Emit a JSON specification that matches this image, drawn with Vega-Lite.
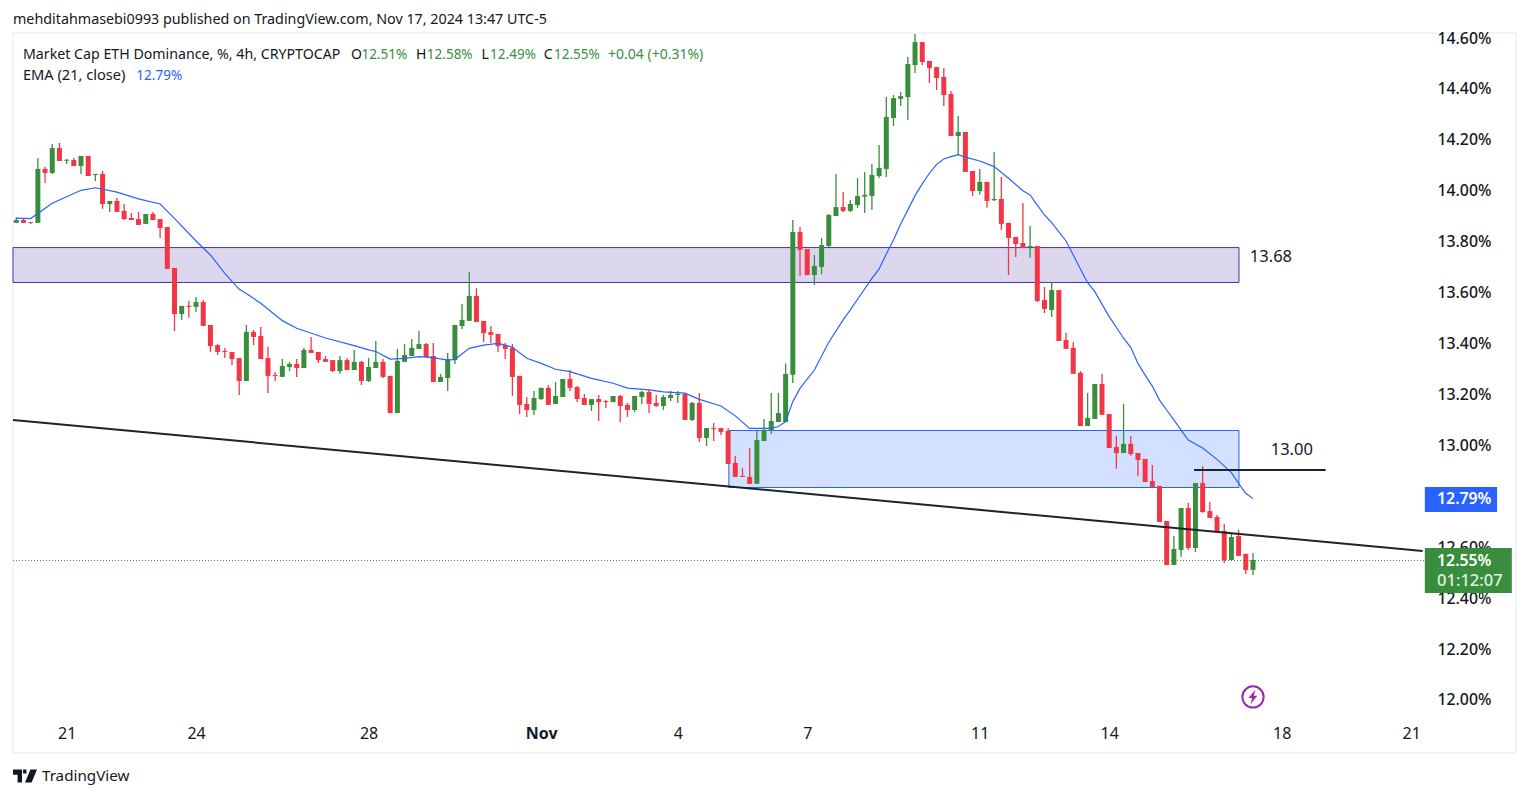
{"$schema":"https://vega.github.io/schema/vega-lite/v6.json",
"autosize":{"type":"none"},"padding":{"left":13,"top":33,"right":13,"bottom":45},"width":1503,"height":720,"background":"#ffffff",
"config":{"view":{"stroke":"#f0f3fa","strokeWidth":2},"text":{"font":"Noto Sans"},"font":"Noto Sans"},
"data":{"values":[{}]},
"datasets":{
"ohlc":[
{"i":0,"o":13.874,"c":13.885,"h":13.896,"l":13.874},{"i":1,"o":13.885,"c":13.874,"h":13.892,"l":13.874},{"i":2,"o":13.877,"c":13.874,"h":13.877,"l":13.870},{"i":3,"o":13.874,"c":14.086,"h":14.129,"l":13.874},{"i":4,"o":14.086,"c":14.070,"h":14.094,"l":14.031},{"i":5,"o":14.070,"c":14.168,"h":14.184,"l":14.066},{"i":6,"o":14.168,"c":14.117,"h":14.188,"l":14.117},{"i":7,"o":14.118,"c":14.122,"h":14.125,"l":14.105},{"i":8,"o":14.121,"c":14.097,"h":14.129,"l":14.097},{"i":9,"o":14.097,"c":14.137,"h":14.137,"l":14.066},
{"i":10,"o":14.137,"c":14.058,"h":14.137,"l":14.058},{"i":11,"o":14.062,"c":14.066,"h":14.066,"l":14.038},{"i":12,"o":14.066,"c":13.948,"h":14.078,"l":13.929},{"i":13,"o":13.948,"c":13.960,"h":13.960,"l":13.917},{"i":14,"o":13.960,"c":13.917,"h":13.972,"l":13.917},{"i":15,"o":13.921,"c":13.889,"h":13.948,"l":13.885},{"i":16,"o":13.893,"c":13.885,"h":13.913,"l":13.885},{"i":17,"o":13.889,"c":13.866,"h":13.917,"l":13.866},{"i":18,"o":13.870,"c":13.909,"h":13.909,"l":13.870},{"i":19,"o":13.909,"c":13.885,"h":13.917,"l":13.885},
{"i":20,"o":13.889,"c":13.854,"h":13.889,"l":13.815},{"i":21,"o":13.858,"c":13.693,"h":13.858,"l":13.693},{"i":22,"o":13.697,"c":13.516,"h":13.697,"l":13.449},{"i":23,"o":13.516,"c":13.548,"h":13.548,"l":13.493},{"i":24,"o":13.548,"c":13.544,"h":13.567,"l":13.501},{"i":25,"o":13.544,"c":13.563,"h":13.583,"l":13.524},{"i":26,"o":13.563,"c":13.469,"h":13.571,"l":13.469},{"i":27,"o":13.473,"c":13.390,"h":13.473,"l":13.367},{"i":28,"o":13.394,"c":13.367,"h":13.398,"l":13.355},{"i":29,"o":13.371,"c":13.367,"h":13.383,"l":13.343},
{"i":30,"o":13.367,"c":13.339,"h":13.367,"l":13.316},{"i":31,"o":13.343,"c":13.253,"h":13.343,"l":13.198},{"i":32,"o":13.253,"c":13.446,"h":13.473,"l":13.253},{"i":33,"o":13.445,"c":13.426,"h":13.453,"l":13.394},{"i":34,"o":13.430,"c":13.339,"h":13.465,"l":13.339},{"i":35,"o":13.343,"c":13.273,"h":13.387,"l":13.206},{"i":36,"o":13.277,"c":13.273,"h":13.288,"l":13.253},{"i":37,"o":13.269,"c":13.312,"h":13.339,"l":13.269},{"i":38,"o":13.308,"c":13.320,"h":13.328,"l":13.292},{"i":39,"o":13.320,"c":13.304,"h":13.339,"l":13.269},
{"i":40,"o":13.304,"c":13.375,"h":13.383,"l":13.304},{"i":41,"o":13.375,"c":13.363,"h":13.426,"l":13.363},{"i":42,"o":13.367,"c":13.335,"h":13.367,"l":13.324},{"i":43,"o":13.339,"c":13.328,"h":13.351,"l":13.328},{"i":44,"o":13.335,"c":13.292,"h":13.335,"l":13.288},{"i":45,"o":13.292,"c":13.335,"h":13.351,"l":13.281},{"i":46,"o":13.335,"c":13.296,"h":13.343,"l":13.296},{"i":47,"o":13.296,"c":13.328,"h":13.375,"l":13.296},{"i":48,"o":13.328,"c":13.253,"h":13.332,"l":13.237},{"i":49,"o":13.253,"c":13.308,"h":13.343,"l":13.249},
{"i":50,"o":13.304,"c":13.328,"h":13.410,"l":13.304},{"i":51,"o":13.328,"c":13.269,"h":13.339,"l":13.265},{"i":52,"o":13.273,"c":13.127,"h":13.273,"l":13.127},{"i":53,"o":13.127,"c":13.332,"h":13.379,"l":13.127},{"i":54,"o":13.328,"c":13.355,"h":13.398,"l":13.328},{"i":55,"o":13.351,"c":13.383,"h":13.418,"l":13.351},{"i":56,"o":13.379,"c":13.398,"h":13.449,"l":13.379},{"i":57,"o":13.398,"c":13.347,"h":13.402,"l":13.347},{"i":58,"o":13.351,"c":13.249,"h":13.402,"l":13.249},{"i":59,"o":13.249,"c":13.269,"h":13.281,"l":13.249},
{"i":60,"o":13.265,"c":13.339,"h":13.363,"l":13.214},{"i":61,"o":13.335,"c":13.473,"h":13.473,"l":13.320},{"i":62,"o":13.469,"c":13.493,"h":13.555,"l":13.457},{"i":63,"o":13.489,"c":13.587,"h":13.681,"l":13.489},{"i":64,"o":13.587,"c":13.485,"h":13.618,"l":13.485},{"i":65,"o":13.489,"c":13.441,"h":13.489,"l":13.406},{"i":66,"o":13.445,"c":13.434,"h":13.469,"l":13.402},{"i":67,"o":13.438,"c":13.390,"h":13.438,"l":13.367},{"i":68,"o":13.394,"c":13.379,"h":13.402,"l":13.339},{"i":69,"o":13.383,"c":13.269,"h":13.398,"l":13.194},
{"i":70,"o":13.273,"c":13.159,"h":13.273,"l":13.123},{"i":71,"o":13.163,"c":13.139,"h":13.190,"l":13.112},{"i":72,"o":13.139,"c":13.186,"h":13.214,"l":13.119},{"i":73,"o":13.182,"c":13.226,"h":13.226,"l":13.178},{"i":74,"o":13.226,"c":13.159,"h":13.237,"l":13.159},{"i":75,"o":13.163,"c":13.194,"h":13.249,"l":13.163},{"i":76,"o":13.190,"c":13.261,"h":13.261,"l":13.190},{"i":77,"o":13.261,"c":13.226,"h":13.296,"l":13.214},{"i":78,"o":13.229,"c":13.182,"h":13.233,"l":13.170},{"i":79,"o":13.186,"c":13.159,"h":13.202,"l":13.159},
{"i":80,"o":13.159,"c":13.182,"h":13.182,"l":13.135},{"i":81,"o":13.182,"c":13.170,"h":13.198,"l":13.096},{"i":82,"o":13.174,"c":13.170,"h":13.178,"l":13.147},{"i":83,"o":13.170,"c":13.194,"h":13.194,"l":13.170},{"i":84,"o":13.194,"c":13.155,"h":13.198,"l":13.092},{"i":85,"o":13.159,"c":13.139,"h":13.167,"l":13.112},{"i":86,"o":13.139,"c":13.194,"h":13.194,"l":13.131},{"i":87,"o":13.190,"c":13.210,"h":13.214,"l":13.163},{"i":88,"o":13.210,"c":13.163,"h":13.218,"l":13.127},{"i":89,"o":13.167,"c":13.155,"h":13.198,"l":13.151},
{"i":90,"o":13.155,"c":13.190,"h":13.198,"l":13.139},{"i":91,"o":13.186,"c":13.198,"h":13.214,"l":13.174},{"i":92,"o":13.198,"c":13.202,"h":13.214,"l":13.167},{"i":93,"o":13.202,"c":13.100,"h":13.202,"l":13.100},{"i":94,"o":13.100,"c":13.167,"h":13.170,"l":13.096},{"i":95,"o":13.167,"c":13.029,"h":13.206,"l":13.013},{"i":96,"o":13.029,"c":13.068,"h":13.068,"l":12.998},{"i":97,"o":13.068,"c":13.064,"h":13.088,"l":13.017},{"i":98,"o":13.068,"c":13.053,"h":13.068,"l":13.041},{"i":99,"o":13.057,"c":12.927,"h":13.068,"l":12.927},
{"i":100,"o":12.931,"c":12.876,"h":12.958,"l":12.876},{"i":101,"o":12.880,"c":12.876,"h":12.911,"l":12.876},{"i":102,"o":12.876,"c":12.849,"h":12.990,"l":12.849},{"i":103,"o":12.849,"c":13.021,"h":13.061,"l":12.849},{"i":104,"o":13.017,"c":13.061,"h":13.104,"l":13.017},{"i":105,"o":13.057,"c":13.096,"h":13.206,"l":13.045},{"i":106,"o":13.092,"c":13.127,"h":13.206,"l":13.092},{"i":107,"o":13.092,"c":13.281,"h":13.322,"l":13.092},{"i":108,"o":13.277,"c":13.838,"h":13.885,"l":13.245},{"i":109,"o":13.838,"c":13.768,"h":13.858,"l":13.666},
{"i":110,"o":13.771,"c":13.669,"h":13.771,"l":13.669},{"i":111,"o":13.669,"c":13.705,"h":13.748,"l":13.630},{"i":112,"o":13.701,"c":13.787,"h":13.815,"l":13.673},{"i":113,"o":13.783,"c":13.905,"h":13.909,"l":13.779},{"i":114,"o":13.901,"c":13.936,"h":14.066,"l":13.901},{"i":115,"o":13.936,"c":13.921,"h":13.995,"l":13.917},{"i":116,"o":13.921,"c":13.948,"h":13.964,"l":13.917},{"i":117,"o":13.944,"c":13.980,"h":14.050,"l":13.933},{"i":118,"o":13.977,"c":13.984,"h":14.074,"l":13.913},{"i":119,"o":13.980,"c":14.062,"h":14.105,"l":13.925},
{"i":120,"o":14.058,"c":14.090,"h":14.180,"l":14.050},{"i":121,"o":14.086,"c":14.290,"h":14.368,"l":14.054},{"i":122,"o":14.286,"c":14.364,"h":14.376,"l":14.255},{"i":123,"o":14.361,"c":14.372,"h":14.388,"l":14.333},{"i":124,"o":14.368,"c":14.498,"h":14.526,"l":14.278},{"i":125,"o":14.494,"c":14.584,"h":14.616,"l":14.463},{"i":126,"o":14.584,"c":14.506,"h":14.584,"l":14.494},{"i":127,"o":14.510,"c":14.482,"h":14.510,"l":14.423},{"i":128,"o":14.486,"c":14.443,"h":14.486,"l":14.396},{"i":129,"o":14.447,"c":14.376,"h":14.482,"l":14.333},
{"i":130,"o":14.380,"c":14.215,"h":14.392,"l":14.215},{"i":131,"o":14.215,"c":14.231,"h":14.294,"l":14.141},{"i":132,"o":14.231,"c":14.074,"h":14.231,"l":14.074},{"i":133,"o":14.078,"c":13.999,"h":14.078,"l":13.980},{"i":134,"o":13.999,"c":14.035,"h":14.086,"l":13.984},{"i":135,"o":14.035,"c":13.960,"h":14.035,"l":13.933},{"i":136,"o":13.963,"c":13.968,"h":14.152,"l":13.960},{"i":137,"o":13.968,"c":13.870,"h":14.054,"l":13.846},{"i":138,"o":13.874,"c":13.815,"h":13.874,"l":13.669},{"i":139,"o":13.819,"c":13.791,"h":13.819,"l":13.740},
{"i":140,"o":13.795,"c":13.775,"h":13.952,"l":13.775},{"i":141,"o":13.778,"c":13.783,"h":13.862,"l":13.736},{"i":142,"o":13.783,"c":13.567,"h":13.783,"l":13.563},{"i":143,"o":13.571,"c":13.536,"h":13.622,"l":13.520},{"i":144,"o":13.532,"c":13.610,"h":13.642,"l":13.504},{"i":145,"o":13.610,"c":13.410,"h":13.610,"l":13.410},{"i":146,"o":13.414,"c":13.379,"h":13.442,"l":13.379},{"i":147,"o":13.383,"c":13.281,"h":13.406,"l":13.281},{"i":148,"o":13.285,"c":13.076,"h":13.292,"l":13.076},{"i":149,"o":13.076,"c":13.108,"h":13.206,"l":13.076},
{"i":150,"o":13.104,"c":13.241,"h":13.241,"l":13.104},{"i":151,"o":13.241,"c":13.120,"h":13.281,"l":13.120},{"i":152,"o":13.123,"c":12.990,"h":13.123,"l":12.990},{"i":153,"o":12.994,"c":12.970,"h":13.037,"l":12.908},{"i":154,"o":12.970,"c":13.006,"h":13.163,"l":12.970},{"i":155,"o":13.006,"c":12.966,"h":13.037,"l":12.959},{"i":156,"o":12.970,"c":12.943,"h":12.970,"l":12.880},{"i":157,"o":12.947,"c":12.856,"h":12.947,"l":12.856},{"i":158,"o":12.860,"c":12.837,"h":12.923,"l":12.837},{"i":159,"o":12.841,"c":12.699,"h":12.841,"l":12.699},
{"i":160,"o":12.703,"c":12.530,"h":12.703,"l":12.530},{"i":161,"o":12.530,"c":12.593,"h":12.644,"l":12.530},{"i":162,"o":12.589,"c":12.754,"h":12.754,"l":12.562},{"i":163,"o":12.754,"c":12.597,"h":12.774,"l":12.589},{"i":164,"o":12.597,"c":12.852,"h":12.852,"l":12.581},{"i":165,"o":12.852,"c":12.738,"h":12.919,"l":12.735},{"i":166,"o":12.742,"c":12.715,"h":12.778,"l":12.715},{"i":167,"o":12.719,"c":12.660,"h":12.727,"l":12.660},{"i":168,"o":12.664,"c":12.550,"h":12.691,"l":12.538},{"i":169,"o":12.550,"c":12.640,"h":12.656,"l":12.550},
{"i":170,"o":12.644,"c":12.566,"h":12.668,"l":12.566},{"i":171,"o":12.574,"c":12.511,"h":12.574,"l":12.495},{"i":172,"o":12.511,"c":12.550,"h":12.577,"l":12.491}
],
"ema":[
{"i":0,"v":13.893},{"i":2,"v":13.891},{"i":5,"v":13.951},{"i":6,"v":13.964},{"i":9,"v":14.002},{"i":11,"v":14.012},{"i":14,"v":13.995},{"i":17,"v":13.968},{"i":20,"v":13.948},{"i":22,"v":13.892},{"i":25,"v":13.803},{"i":27,"v":13.748},{"i":29,"v":13.676},{"i":31,"v":13.613},{"i":32,"v":13.597},{"i":34,"v":13.558},{"i":37,"v":13.490},{"i":39,"v":13.460},{"i":43,"v":13.422},{"i":47,"v":13.392},{"i":49,"v":13.375},{"i":50,"v":13.369},{"i":52,"v":13.339},{"i":54,"v":13.342},{"i":56,"v":13.349},{"i":58,"v":13.345},{"i":60,"v":13.335},{"i":61,"v":13.338},{"i":63,"v":13.381},{"i":65,"v":13.394},{"i":67,"v":13.401},{"i":68,"v":13.394},{"i":69,"v":13.385},{"i":71,"v":13.342},{"i":73,"v":13.322},{"i":75,"v":13.299},{"i":77,"v":13.290},{"i":80,"v":13.263},{"i":83,"v":13.244},{"i":85,"v":13.225},{"i":88,"v":13.218},{"i":90,"v":13.210},{"i":93,"v":13.205},{"i":95,"v":13.181},{"i":98,"v":13.155},{"i":100,"v":13.116},{"i":102,"v":13.067},{"i":105,"v":13.067},{"i":106,"v":13.074},{"i":107,"v":13.093},{"i":108,"v":13.172},{"i":109,"v":13.224},{"i":111,"v":13.296},{"i":113,"v":13.405},{"i":115,"v":13.493},{"i":116,"v":13.532},{"i":117,"v":13.574},{"i":119,"v":13.656},{"i":120,"v":13.693},{"i":121,"v":13.752},{"i":122,"v":13.807},{"i":123,"v":13.870},{"i":124,"v":13.925},{"i":125,"v":13.981},{"i":126,"v":14.027},{"i":127,"v":14.069},{"i":128,"v":14.104},{"i":129,"v":14.125},{"i":130,"v":14.134},{"i":131,"v":14.142},{"i":132,"v":14.132},{"i":134,"v":14.117},{"i":136,"v":14.095},{"i":138,"v":14.049},{"i":140,"v":14.000},{"i":141,"v":13.984},{"i":142,"v":13.944},{"i":143,"v":13.905},{"i":144,"v":13.875},{"i":146,"v":13.803},{"i":148,"v":13.693},{"i":149,"v":13.639},{"i":150,"v":13.604},{"i":152,"v":13.506},{"i":154,"v":13.421},{"i":155,"v":13.385},{"i":156,"v":13.322},{"i":157,"v":13.276},{"i":158,"v":13.233},{"i":159,"v":13.178},{"i":160,"v":13.139},{"i":161,"v":13.100},{"i":162,"v":13.060},{"i":163,"v":13.021},{"i":165,"v":12.990},{"i":167,"v":12.945},{"i":169,"v":12.893},{"i":170,"v":12.851},{"i":171,"v":12.812},{"i":172,"v":12.791}
],
"trend":[{"i":-0.459,"v":13.0998},{"i":195.6,"v":12.5852}]
},
"layer":[
{"data":{"name":"ohlc"},"mark":{"type":"rule","opacity":0},
 "encoding":{
  "x":{"field":"i","type":"quantitative","title":null,"scale":{"domain":[-0.459,208.58],"nice":false,"zero":false,"padding":0},
   "axis":{"orient":"bottom","offset":-29,"domain":false,"ticks":false,"grid":false,"labelPadding":1,"labelFontSize":16,"labelColor":"#131722","labelFont":"Noto Sans","values":[7,25,49,73,92,110,134,152,176,194],"labelFlush":false,"labelOverlap":false,
    "labelExpr":"{'7':'21','25':'24','49':'28','73':'Nov','92':'4','110':'7','134':'11','152':'14','176':'18','194':'21'}[''+datum.value]",
    "labelFontWeight":{"condition":{"test":"datum.value==73","value":"bold"},"value":"normal"}}},
  "y":{"field":"v0","type":"quantitative","title":null,"scale":{"domain":[11.7918,14.6198],"nice":false,"zero":false,"padding":0},
   "axis":{"orient":"right","offset":-89,"domain":false,"ticks":false,"grid":false,"labelPadding":10,"labelFontSize":15.8,"labelFontWeight":500,"labelColor":"#131722","labelFont":"Noto Sans","values":[12,12.2,12.4,12.6,12.8,13,13.2,13.4,13.6,13.8,14,14.2,14.4,14.6],"labelOverlap":false,"labelBound":false,
    "labelExpr":"format(datum.value,'.2f')+'%'"}}
 }},
{"mark":{"type":"rect","fill":"#dcd7ee","fillOpacity":1,"stroke":"#512da8","strokeWidth":1},
 "encoding":{"x":{"datum":-0.459},"x2":{"datum":170.05},"y":{"datum":13.777},"y2":{"datum":13.640}}},
{"mark":{"type":"rect","fill":"#2962ff","fillOpacity":0.2,"stroke":"#2962ff","strokeWidth":1},
 "encoding":{"x":{"datum":99.1},"x2":{"datum":170.05},"y":{"datum":13.0585},"y2":{"datum":12.8346}}},
{"mark":{"type":"rule","color":"#388e3c","strokeWidth":1,"strokeDash":[1,2]},
 "encoding":{"x":{"datum":-0.459},"x2":{"datum":195.9},"y":{"datum":12.548}}},
{"data":{"name":"ohlc"},"mark":{"type":"rule","strokeWidth":1.3},
 "encoding":{"x":{"field":"i","type":"quantitative"},"y":{"field":"l","type":"quantitative"},"y2":{"field":"h"},
  "color":{"condition":{"test":"datum.c>=datum.o","value":"#388e3c"},"value":"#f23645"}}},
{"data":{"name":"ohlc"},"mark":{"type":"bar","size":5,"orient":"vertical"},
 "encoding":{"x":{"field":"i","type":"quantitative"},"y":{"field":"o","type":"quantitative"},"y2":{"field":"c"},
  "color":{"condition":{"test":"datum.c>=datum.o","value":"#388e3c"},"value":"#f23645"}}},
{"data":{"name":"ema"},"mark":{"type":"line","color":"#2962ff","strokeWidth":1.2},
 "encoding":{"x":{"field":"i","type":"quantitative"},"y":{"field":"v","type":"quantitative"}}},
{"data":{"name":"trend"},"mark":{"type":"line","color":"#1e222d","strokeWidth":2},
 "encoding":{"x":{"field":"i","type":"quantitative"},"y":{"field":"v","type":"quantitative"}}},
{"mark":{"type":"rule","color":"#1e222d","strokeWidth":2},
 "encoding":{"x":{"datum":163.8},"x2":{"datum":182.1},"y":{"datum":12.903}}},
{"mark":{"type":"text","fontSize":16.5,"color":"#131722","align":"center","baseline":"middle"},
 "encoding":{"x":{"datum":177.4},"y":{"datum":12.982},"text":{"value":"13.00"}}},
{"mark":{"type":"text","fontSize":16.5,"color":"#131722","align":"center","baseline":"middle"},
 "encoding":{"x":{"datum":174.5},"y":{"datum":13.74},"text":{"value":"13.68"}}},
{"mark":{"type":"rect","fill":"#2962ff"},
 "encoding":{"x":{"datum":195.9},"x2":{"datum":205.95},"y":{"datum":12.8366},"y2":{"datum":12.7384}}},
{"mark":{"type":"rect","fill":"#388e3c"},
 "encoding":{"x":{"datum":195.9},"x2":{"datum":208.0},"y":{"datum":12.597},"y2":{"datum":12.420}}},
{"mark":{"type":"text","fontSize":15.8,"fontWeight":600,"color":"#ffffff","align":"left","baseline":"middle"},
 "encoding":{"x":{"datum":197.6},"y":{"datum":12.7875},"text":{"value":"12.79%"}}},
{"mark":{"type":"text","fontSize":15.8,"fontWeight":600,"color":"#ffffff","align":"left","baseline":"middle"},
 "encoding":{"x":{"datum":197.6},"y":{"datum":12.546},"text":{"value":"12.55%"}}},
{"mark":{"type":"text","fontSize":16.5,"fontWeight":500,"color":"#e3efe4","align":"left","baseline":"middle"},
 "encoding":{"x":{"datum":197.6},"y":{"datum":12.467},"text":{"value":"01:12:07"}}},
{"mark":{"type":"point","shape":"circle","size":452,"filled":false,"stroke":"#9c27b0","strokeWidth":2,"opacity":1},
 "encoding":{"x":{"datum":172},"y":{"datum":12.012}}},
{"mark":{"type":"point","shape":"M0.35,-1 L-0.6,0.15 L-0.1,0.15 L-0.35,1 L0.6,-0.15 L0.1,-0.15 Z","size":220,"filled":true,"color":"#9c27b0","opacity":1},
 "encoding":{"x":{"datum":172},"y":{"datum":12.012}}},
{"mark":{"type":"text","fontSize":14.3,"color":"#131722","align":"left","baseline":"middle"},
 "encoding":{"x":{"datum":-0.459},"y":{"datum":14.669},"text":{"value":"mehditahmasebi0993 published on TradingView.com, Nov 17, 2024 13:47 UTC-5"}}},
{"mark":{"type":"text","fontSize":14.2,"color":"#131722","align":"left","baseline":"middle"},
 "encoding":{"x":{"datum":0.93},"y":{"datum":14.533},"text":{"value":"Market Cap ETH Dominance, %, 4h, CRYPTOCAP"}}},
{"mark":{"type":"text","fontSize":14,"color":"#131722","align":"left","baseline":"middle"},
 "encoding":{"x":{"datum":46.55},"y":{"datum":14.533},"text":{"value":"O"}}},
{"mark":{"type":"text","fontSize":13.5,"color":"#388e3c","align":"left","baseline":"middle"},
 "encoding":{"x":{"datum":48.0},"y":{"datum":14.533},"text":{"value":"12.51%"}}},
{"mark":{"type":"text","fontSize":14,"color":"#131722","align":"left","baseline":"middle"},
 "encoding":{"x":{"datum":55.59},"y":{"datum":14.533},"text":{"value":"H"}}},
{"mark":{"type":"text","fontSize":13.5,"color":"#388e3c","align":"left","baseline":"middle"},
 "encoding":{"x":{"datum":57.1},"y":{"datum":14.533},"text":{"value":"12.58%"}}},
{"mark":{"type":"text","fontSize":14,"color":"#131722","align":"left","baseline":"middle"},
 "encoding":{"x":{"datum":64.7},"y":{"datum":14.533},"text":{"value":"L"}}},
{"mark":{"type":"text","fontSize":13.5,"color":"#388e3c","align":"left","baseline":"middle"},
 "encoding":{"x":{"datum":65.9},"y":{"datum":14.533},"text":{"value":"12.49%"}}},
{"mark":{"type":"text","fontSize":14,"color":"#131722","align":"left","baseline":"middle"},
 "encoding":{"x":{"datum":73.35},"y":{"datum":14.533},"text":{"value":"C"}}},
{"mark":{"type":"text","fontSize":13.5,"color":"#388e3c","align":"left","baseline":"middle"},
 "encoding":{"x":{"datum":74.79},"y":{"datum":14.533},"text":{"value":"12.55%"}}},
{"mark":{"type":"text","fontSize":14,"color":"#388e3c","align":"left","baseline":"middle"},
 "encoding":{"x":{"datum":82.3},"y":{"datum":14.533},"text":{"value":"+0.04 (+0.31%)"}}},
{"mark":{"type":"text","fontSize":14.6,"color":"#131722","align":"left","baseline":"middle"},
 "encoding":{"x":{"datum":0.93},"y":{"datum":14.451},"text":{"value":"EMA (21, close)"}}},
{"mark":{"type":"text","fontSize":13.5,"color":"#2962ff","align":"left","baseline":"middle"},
 "encoding":{"x":{"datum":16.7},"y":{"datum":14.451},"text":{"value":"12.79%"}}},
{"mark":{"type":"point","shape":"M-1,-0.54 L-0.25,-0.54 L-0.25,0.54 L-0.62,0.54 L-0.62,-0.1 L-1,-0.1 Z M-0.16,-0.54 L0.12,-0.54 L0.12,-0.2 L-0.16,-0.2 Z M0.45,-0.54 L1,-0.54 L0.55,0.54 L0,0.54 Z","size":576,"filled":true,"color":"#131722","opacity":1},
 "encoding":{"x":{"datum":1.21},"y":{"datum":11.7015}}},
{"mark":{"type":"text","fontSize":15.2,"color":"#131722","align":"left","baseline":"middle"},
 "encoding":{"x":{"datum":3.57},"y":{"datum":11.7015},"text":{"value":"TradingView"}}}
]}
